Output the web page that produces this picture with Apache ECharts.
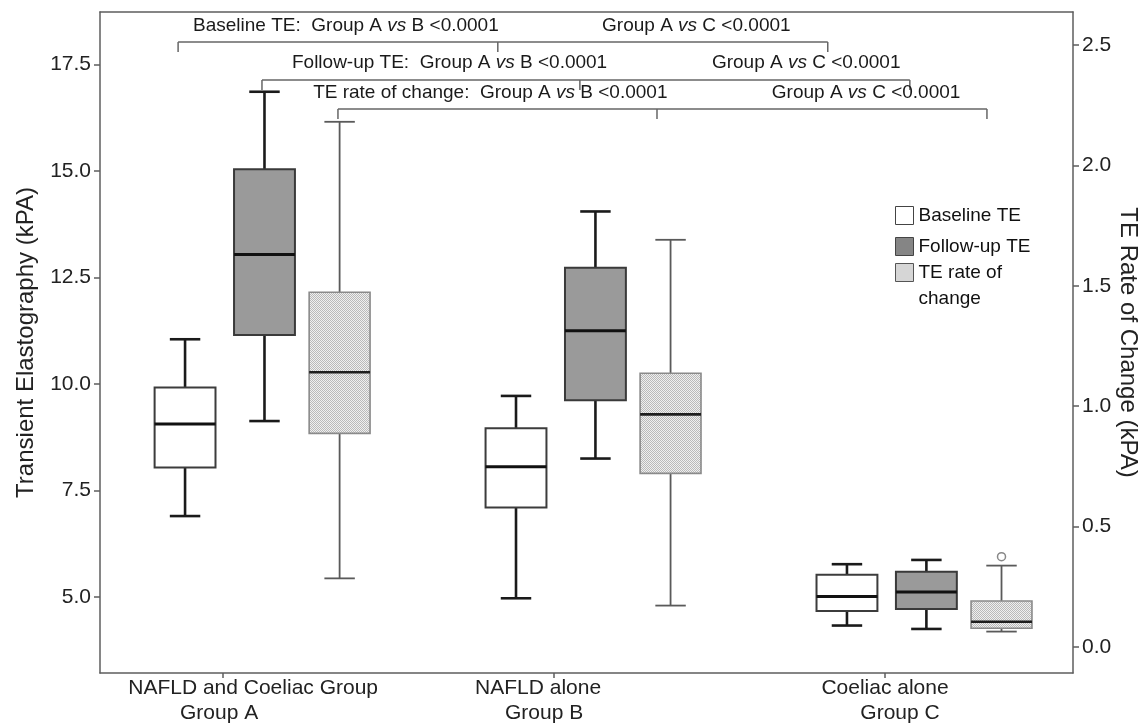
<!DOCTYPE html>
<html>
<head>
<meta charset="utf-8">
<script src="https://cdn.jsdelivr.net/npm/echarts@6/dist/echarts.min.js"></script>
<style>
html,body{margin:0;padding:0;background:#fff;}
#chart{width:1144px;height:723px;}
</style>
</head>
<body>
<div id="chart"></div>
<script>
// ---------- data ----------
const categories = ['NAFLD and Coeliac Group', 'NAFLD alone', 'Coeliac alone'];
const groupLabels = ['Group A', 'Group B', 'Group C'];
const seriesNames = ['Baseline TE', 'Follow-up TE', 'TE rate of change'];
// each row: [min, Q1, median, Q3, max]
const baselineTE = [
  [6.90, 8.04, 9.06, 9.92, 11.05],
  [4.97, 7.10, 8.06, 8.96, 9.72],
  [4.33, 4.67, 5.01, 5.52, 5.77]
];
const followUpTE = [
  [9.13, 11.15, 13.04, 15.04, 16.86],
  [8.25, 9.62, 11.25, 12.73, 14.05],
  [4.25, 4.72, 5.12, 5.59, 5.87]
];
const rateOfChange = [
  [0.285, 0.887, 1.141, 1.473, 2.181],
  [0.172, 0.721, 0.966, 1.137, 1.691],
  [0.064, 0.078, 0.105, 0.191, 0.338]
];
const rateOutliers = [[2, 0.375]]; // [group index, value]
const leftTicks = [5.0, 7.5, 10.0, 12.5, 15.0, 17.5];
const rightTicks = [0.0, 0.5, 1.0, 1.5, 2.0, 2.5];
const comparisonLabels = ['Baseline TE:', 'Follow-up TE:', 'TE rate of change:'];
const pValuesAB = ['<0.0001', '<0.0001', '<0.0001'];
const pValuesAC = ['<0.0001', '<0.0001', '<0.0001'];

// ---------- layout / style ----------
const FONT = "'Liberation Sans', Arial, Helvetica, sans-serif";
const OFFSETS = [-0.24, 0, 0.227];
const BOX_W = 0.184;
const tickPos = categories.map((c, i) => i - 0.125);

// stipple pattern for rate of change boxes
const pc = document.createElement('canvas');
pc.width = 4; pc.height = 4;
const pctx = pc.getContext('2d');
pctx.fillStyle = '#efefef'; pctx.fillRect(0, 0, 4, 4);
pctx.fillStyle = '#b9b9b9';
[[0,0],[2,0],[1,1],[3,1],[0,2],[2,2],[1,3],[3,3]].forEach(p => pctx.fillRect(p[0], p[1], 1, 1));
const stipple = { image: pc, repeat: 'repeat' };

const boxStyles = [
  { fill: '#ffffff', border: '#3c3c3c', borderWidth: 2, whisker: '#1a1a1a', whiskerWidth: 2.6, median: '#111', medianWidth: 3 },
  { fill: '#9a9a9a', border: '#3a3a3a', borderWidth: 2, whisker: '#1a1a1a', whiskerWidth: 2.6, median: '#111', medianWidth: 3 },
  { fill: stipple, border: '#8a8a8a', borderWidth: 1.6, whisker: '#5a5a5a', whiskerWidth: 1.8, median: '#1e1e1e', medianWidth: 2.6 }
];

function makeRender(si) {
  const st = boxStyles[si];
  return function (params, api) {
    const x = api.value(0) + OFFSETS[si];
    const ys = [1, 2, 3, 4, 5].map(i => api.coord([x, api.value(i)])[1]);
    const cx = api.coord([x, api.value(1)])[0];
    const half = api.size([BOX_W, 0])[0] / 2;
    const cap = half / 2;
    const [pMin, pQ1, pMed, pQ3, pMax] = ys;
    const wStyle = { stroke: st.whisker, lineWidth: st.whiskerWidth };
    return {
      type: 'group',
      children: [
        { type: 'line', shape: { x1: cx, y1: pQ3, x2: cx, y2: pMax }, style: wStyle },
        { type: 'line', shape: { x1: cx, y1: pQ1, x2: cx, y2: pMin }, style: wStyle },
        { type: 'line', shape: { x1: cx - cap, y1: pMax, x2: cx + cap, y2: pMax }, style: wStyle },
        { type: 'line', shape: { x1: cx - cap, y1: pMin, x2: cx + cap, y2: pMin }, style: wStyle },
        { type: 'rect', shape: { x: cx - half, y: pQ3, width: 2 * half, height: pQ1 - pQ3 },
          style: { fill: st.fill, stroke: st.border, lineWidth: st.borderWidth } },
        { type: 'line', shape: { x1: cx - half, y1: pMed, x2: cx + half, y2: pMed },
          style: { stroke: st.median, lineWidth: st.medianWidth } }
      ]
    };
  };
}

const toItems = arr => arr.map((d, i) => [i].concat(d));

// per-line horizontal nudges of the category labels (SPSS-style placement)
const lblBase = { fontSize: 21, lineHeight: 25, color: '#222', fontFamily: FONT };
const labelRich = {
  a0: Object.assign({}, lblBase, { padding: [0, 0, 0, 60] }),
  b0: Object.assign({}, lblBase, { padding: [0, 8, 0, 0] }),
  a1: Object.assign({}, lblBase, { padding: [0, 32, 0, 0] }),
  b1: Object.assign({}, lblBase, { padding: [0, 20, 0, 0] }),
  a2: Object.assign({}, lblBase, { padding: [0, 0, 0, 0] }),
  b2: Object.assign({}, lblBase, { padding: [0, 0, 0, 30] })
};

const chart = echarts.init(document.getElementById('chart'), null, { renderer: 'canvas' });

const axisLineStyle = { color: '#5e5e5e', width: 1.5 };
const option = {
  backgroundColor: '#ffffff',
  animation: false,
  textStyle: { fontFamily: FONT },
  grid: { left: 100, right: 71, top: 12, bottom: 50, containLabel: false, outerBoundsMode: 'none' },
  xAxis: [
    {
      type: 'value', min: -0.497, max: 2.443, position: 'bottom',
      axisLine: { show: true, onZero: false, lineStyle: axisLineStyle },
      axisTick: { show: true, customValues: tickPos, length: 5, lineStyle: axisLineStyle },
      axisLabel: {
        customValues: tickPos, margin: 3, fontSize: 21, lineHeight: 25, color: '#222', fontFamily: FONT,
        rich: labelRich,
        formatter: v => {
          const i = Math.round(v + 0.125);
          if (!categories[i]) return '';
          return '{a' + i + '|' + categories[i] + '}\n{b' + i + '|' + groupLabels[i] + '}';
        }
      },
      splitLine: { show: false }
    },
    {
      type: 'value', min: -0.497, max: 2.443, position: 'top',
      axisLine: { show: true, onZero: false, lineStyle: axisLineStyle },
      axisTick: { show: false }, axisLabel: { show: false }, splitLine: { show: false }
    }
  ],
  yAxis: [
    {
      type: 'value', min: 3.216, max: 18.732, position: 'left',
      name: 'Transient Elastography (kPA)', nameLocation: 'middle', nameGap: 62, nameMoveOverlap: false,
      nameTextStyle: { fontSize: 24, color: '#222', fontFamily: FONT },
      axisLine: { show: true, onZero: false, lineStyle: axisLineStyle },
      axisTick: { show: true, customValues: leftTicks, length: 6, lineStyle: axisLineStyle },
      axisLabel: { customValues: leftTicks, margin: 9, fontSize: 21, color: '#222', fontFamily: FONT,
        formatter: v => v.toFixed(1) },
      splitLine: { show: false }
    },
    {
      type: 'value', min: -0.108, max: 2.637, position: 'right',
      name: 'TE Rate of Change (kPA)', nameLocation: 'middle', nameGap: 43, nameRotate: -90, nameMoveOverlap: false,
      nameTextStyle: { fontSize: 24, color: '#222', fontFamily: FONT },
      axisLine: { show: true, onZero: false, lineStyle: axisLineStyle },
      axisTick: { show: true, customValues: rightTicks, length: 6, lineStyle: axisLineStyle },
      axisLabel: { customValues: rightTicks, margin: 9, fontSize: 21, color: '#222', fontFamily: FONT,
        formatter: v => v.toFixed(1) },
      splitLine: { show: false }
    }
  ],
  legend: [
    {
      data: [
        { name: seriesNames[0], itemStyle: { color: '#ffffff', borderColor: '#444', borderWidth: 1 } },
        { name: seriesNames[1], itemStyle: { color: '#858585', borderColor: '#444', borderWidth: 1 } }
      ],
      orient: 'vertical', left: 895, top: 206, padding: 0, itemGap: 12,
      itemWidth: 18, itemHeight: 18, icon: 'rect', selectedMode: false,
      textStyle: { fontSize: 19, color: '#111', lineHeight: 18, fontFamily: FONT }
    },
    {
      data: [
        { name: seriesNames[2], itemStyle: { color: '#d6d6d6', borderColor: '#555', borderWidth: 1 } }
      ],
      orient: 'vertical', left: 895, top: 237, padding: 0,
      itemWidth: 18, itemHeight: 18, icon: 'rect', selectedMode: false,
      formatter: () => '{e| }\n{a|TE rate of}\n{a|change}',
      textStyle: { fontSize: 19, color: '#111', fontFamily: FONT,
        rich: { e: { fontSize: 19, lineHeight: 26 }, a: { fontSize: 19, lineHeight: 26, color: '#111', fontFamily: FONT } } }
    }
  ],
  series: [
    {
      name: seriesNames[0], type: 'custom', xAxisIndex: 0, yAxisIndex: 0,
      renderItem: makeRender(0), data: toItems(baselineTE),
      encode: { x: 0, y: [1, 2, 3, 4, 5] },
      itemStyle: { color: '#ffffff', borderColor: '#444' }
    },
    {
      name: seriesNames[1], type: 'custom', xAxisIndex: 0, yAxisIndex: 0,
      renderItem: makeRender(1), data: toItems(followUpTE),
      encode: { x: 0, y: [1, 2, 3, 4, 5] },
      itemStyle: { color: '#858585', borderColor: '#444' }
    },
    {
      name: seriesNames[2], type: 'custom', xAxisIndex: 0, yAxisIndex: 1,
      renderItem: makeRender(2), data: toItems(rateOfChange),
      encode: { x: 0, y: [1, 2, 3, 4, 5] },
      itemStyle: { color: '#d6d6d6', borderColor: '#555' }
    },
    {
      name: 'outliers', type: 'scatter', xAxisIndex: 0, yAxisIndex: 1,
      data: rateOutliers.map(d => [d[0] + OFFSETS[2], d[1]]),
      symbol: 'circle', symbolSize: 8,
      itemStyle: { color: '#ffffff', borderColor: '#6a6a6a', borderWidth: 1.5 },
      z: 5
    }
  ]
};
chart.setOption(option);

// ---------- significance brackets (positions in data units of x / left y axis) ----------
const annotations = [
  { textY: 18.40, textX: [-0.216, 1.020], bracketY: 18.03, bracketX: [-0.261, 0.705, 1.702] },
  { textY: 17.535, textX: [0.083, 1.352], bracketY: 17.136, bracketX: [-0.0076, 0.953, 1.950] },
  { textY: 16.83, textX: [0.147, 1.533], bracketY: 16.455, bracketX: [0.222, 1.186, 2.183] }
];
const graphics = [];
const toPx = (x, y) => chart.convertToPixel({ seriesIndex: 0 }, [x, y]);
annotations.forEach((a, i) => {
  const t1 = toPx(a.textX[0], a.textY);
  const t2 = toPx(a.textX[1], a.textY);
  const richStyle = { i: { fontStyle: 'italic', fontSize: 19, fontFamily: FONT, fill: '#1a1a1a' } };
  graphics.push({
    type: 'text', x: t1[0], y: t1[1], z: 10,
    style: { text: comparisonLabels[i] + '  Group A {i|vs} B ' + pValuesAB[i], font: '19px ' + FONT,
      fill: '#1a1a1a', verticalAlign: 'middle', align: 'left', rich: richStyle }
  });
  graphics.push({
    type: 'text', x: t2[0], y: t2[1], z: 10,
    style: { text: 'Group A {i|vs} C ' + pValuesAC[i], font: '19px ' + FONT,
      fill: '#1a1a1a', verticalAlign: 'middle', align: 'left', rich: richStyle }
  });
  const pL = toPx(a.bracketX[0], a.bracketY);
  const pM = toPx(a.bracketX[1], a.bracketY);
  const pR = toPx(a.bracketX[2], a.bracketY);
  const ls = { stroke: '#666', lineWidth: 1.5 };
  graphics.push({ type: 'line', z: 9, shape: { x1: pL[0], y1: pL[1], x2: pR[0], y2: pR[1] }, style: ls });
  [pL, pM, pR].forEach(p => {
    graphics.push({ type: 'line', z: 9, shape: { x1: p[0], y1: p[1], x2: p[0], y2: p[1] + 10 }, style: ls });
  });
});
chart.setOption({ graphic: graphics });
</script>
</body>
</html>
